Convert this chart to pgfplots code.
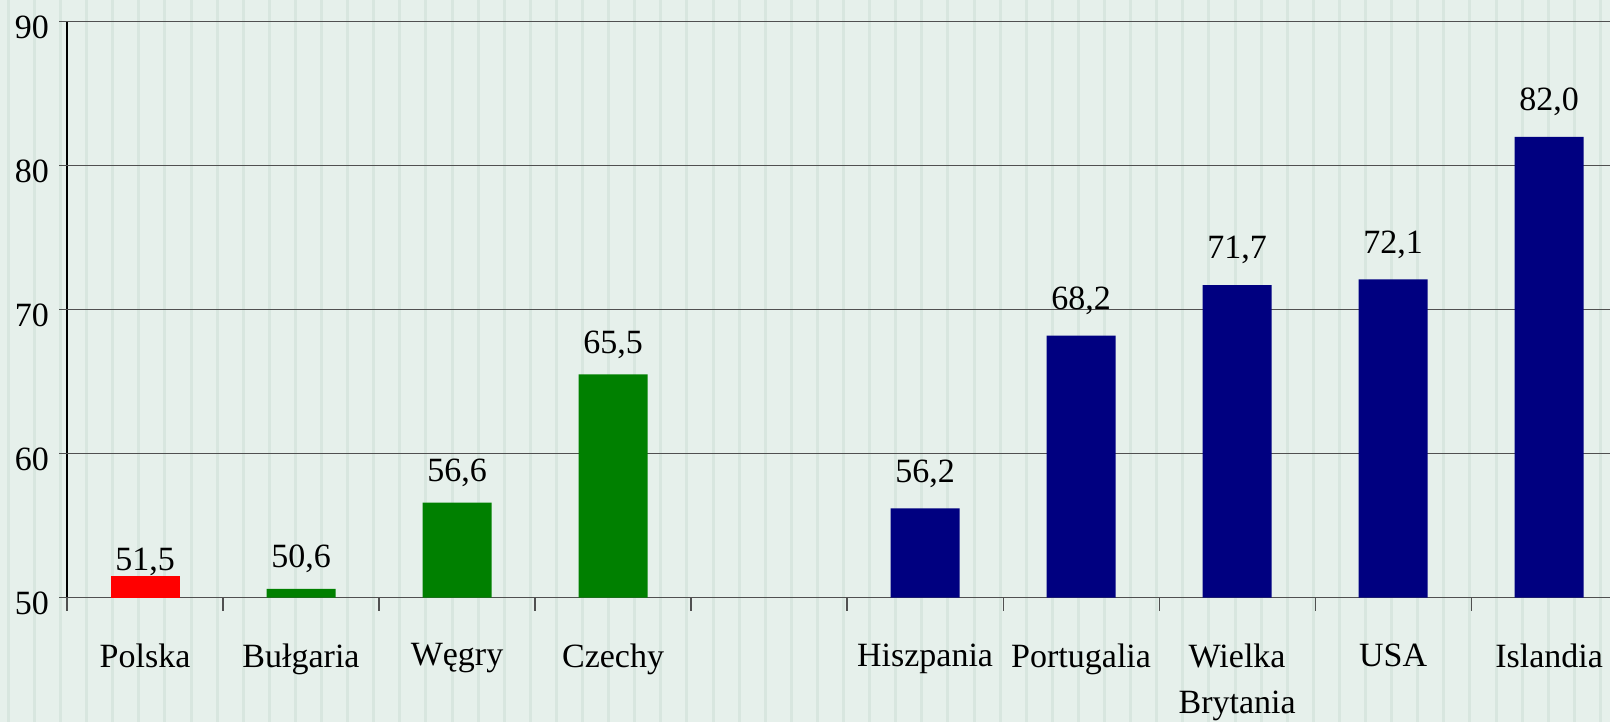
\documentclass[border=0pt]{standalone}
\usepackage{pgfplots}
\pgfplotsset{compat=1.18}
\usepackage{fontspec}
\setmainfont{Liberation Serif}
\definecolor{bg}{RGB}{230,240,235}
\definecolor{stripe}{RGB}{216,230,223}
\definecolor{gridc}{RGB}{80,80,80}
\definecolor{barred}{RGB}{255,0,0}
\definecolor{bargreen}{RGB}{0,128,0}
\definecolor{barnavy}{RGB}{0,0,128}
\begin{document}
\begin{tikzpicture}
\useasboundingbox (0,0) rectangle (805pt,361pt);
\fill[bg] (0,0) rectangle (805pt,361pt);
\foreach \i in {0,...,61} \fill[stripe] ({3.4pt+\i*13.05pt},0) rectangle +(1.5pt,361pt);
\begin{axis}[
  at={(33.5pt,62.2pt)}, anchor=south west,
  scale only axis, width=771.5pt, height=288pt,
  ybar, bar width=34.5pt, bar shift=0pt,
  xmin=-0.5, xmax=9.39, ymin=50, ymax=90,
  axis x line*=bottom, axis y line*=left,
  x axis line style={draw=gridc, line width=0.6pt, -},
  y axis line style={draw=black, line width=0.6pt, -},
  major tick length=0pt,
  tick align=outside,
  /pgf/number format/assume math mode=true,
  xtick={0,1,2,3,5,6,7,8,9},
  xticklabels={Polska,Bułgaria,Węgry,Czechy,Hiszpania,Portugalia,{Wielka\\[3pt]Brytania},USA,Islandia},
  xticklabel style={align=center, yshift=-19.5pt},
  ytick={50,60,70,80,90},
  yticklabel style={xshift=-5.5pt, yshift=-3pt},
  tick label style={font=\fontsize{17}{20}\selectfont, black},
  extra x ticks={-0.5,0.5,1.5,2.5,3.5,4.5,5.5,6.5,7.5,8.5},
  extra x tick labels={},
  extra x tick style={major tick length=6.5pt, tick style={draw=gridc, line width=0.6pt}},
  extra y ticks={50,60,70,80,90},
  extra y tick labels={},
  extra y tick style={major tick length=4pt, tick style={draw=gridc, line width=0.6pt}},
  ymajorgrids,
  major grid style={draw=gridc, line width=0.6pt},
  nodes near coords={\pgfmathprintnumber[fixed,fixed zerofill,precision=1,use comma,assume math mode=true]{\pgfplotspointmeta}},
  every node near coord/.append style={font=\fontsize{17}{20}\selectfont, black},
]
\addplot[fill=barred, draw=none, every node near coord/.append style={yshift=-3.3pt}] coordinates {(0,51.5)};
\addplot[fill=bargreen, draw=none, every node near coord/.append style={yshift=4.4pt}] coordinates {(1,50.6) (2,56.6) (3,65.5)};
\addplot[fill=barnavy, draw=none, every node near coord/.append style={yshift=7pt}] coordinates {(5,56.2) (6,68.2) (7,71.7) (8,72.1) (9,82.0)};
\end{axis}
\end{tikzpicture}
\end{document}
